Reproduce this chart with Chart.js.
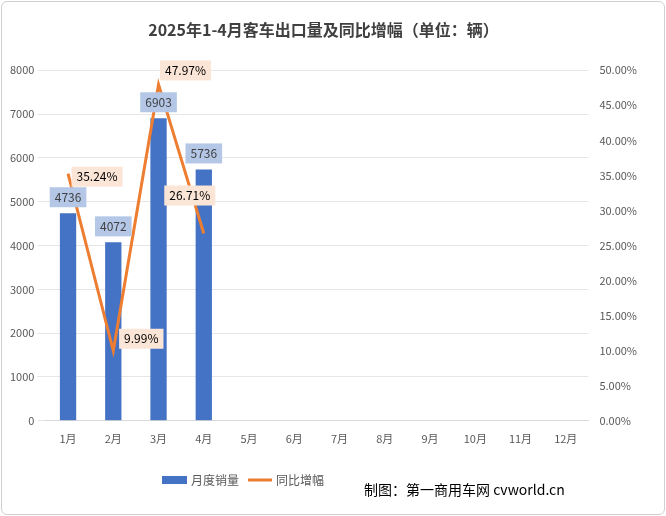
<!DOCTYPE html>
<html><head><meta charset="utf-8">
<script src="https://cdn.jsdelivr.net/npm/chart.js@4"></script>
<style>
body{margin:0;background:#fff}
#wrap{position:absolute;left:1px;top:1px;width:662px;height:512px;border:1px solid #d0d0d0;border-radius:6px;overflow:hidden}
</style></head>
<body><div id="wrap"><canvas id="chart" width="662" height="512"></canvas></div>
<script>
const months = ['1月','2月','3月','4月','5月','6月','7月','8月','9月','10月','11月','12月'];
const sales = [4736, 4072, 6903, 5736, null, null, null, null, null, null, null, null];
const growth = [35.24, 9.99, 47.97, 26.71, null, null, null, null, null, null, null, null];
const font = '"Noto Sans CJK SC", "Noto Sans", sans-serif';

const labelPlugin = {
    id: 'labels',
    afterDatasetsDraw(chart) {
        const ctx = chart.ctx;
        ctx.save();
        ctx.font = '12px ' + font;
        ctx.textAlign = 'center';
        ctx.textBaseline = 'middle';
        chart.getDatasetMeta(0).data.forEach((bar, i) => {
            if (sales[i] == null) return;
            const t = String(sales[i]);
            const w = ctx.measureText(t).width + 10;
            const y = bar.y - 16;
            ctx.fillStyle = '#b4c7e7';
            ctx.fillRect(bar.x - w / 2, y - 10, w, 20);
            ctx.fillStyle = '#404040';
            ctx.fillText(t, bar.x, y);
        });
        const offs = [[29, 3], [28, -12], [27, -14], [-14, -38]];
        chart.getDatasetMeta(1).data.forEach((pt, i) => {
            if (growth[i] == null) return;
            const t = growth[i].toFixed(2) + '%';
            const w = ctx.measureText(t).width + 10;
            const x = pt.x + offs[i][0], y = pt.y + offs[i][1];
            ctx.fillStyle = '#fbe5d6';
            ctx.fillRect(x - w / 2, y - 10, w, 20);
            ctx.fillStyle = '#000';
            ctx.fillText(t, x, y);
        });
        // legend
        ctx.textAlign = 'left';
        ctx.fillStyle = '#4472c4';
        ctx.fillRect(160, 474, 25, 8);
        ctx.fillStyle = '#595959';
        ctx.fillText('月度销量', 189, 478);
        ctx.strokeStyle = '#ed7d31';
        ctx.lineWidth = 3;
        ctx.beginPath(); ctx.moveTo(246, 478); ctx.lineTo(270, 478); ctx.stroke();
        ctx.fillText('同比增幅', 274, 478);
        ctx.font = '14px ' + font;
        ctx.fillStyle = '#000';
        ctx.fillText('制图：第一商用车网 cvworld.cn', 362, 488);
        ctx.restore();
    }
};

new Chart(document.getElementById('chart').getContext('2d'), {
    type: 'bar',
    data: {
        labels: months,
        datasets: [{
            type: 'bar', data: sales, backgroundColor: '#4472c4',
            yAxisID: 'y', barPercentage: 0.36, categoryPercentage: 1, order: 2
        }, {
            type: 'line', data: growth, borderColor: '#ed7d31', borderWidth: 3,
            pointRadius: 0, yAxisID: 'y1', tension: 0, order: 1
        }]
    },
    options: {
        responsive: false, animation: false,
        layout: { padding: { left: 5, right: 24, top: 6, bottom: 66 } },
        plugins: {
            legend: { display: false },
            tooltip: { enabled: false },
            title: {
                display: true, text: '2025年1-4月客车出口量及同比增幅（单位：辆）',
                color: '#404040', font: { family: font, size: 16, weight: 'bold' },
                padding: { top: 12, bottom: 31 }
            }
        },
        scales: {
            x: {
                grid: { display: false }, border: { color: '#d9d9d9' },
                ticks: { color: '#595959', font: { family: font, size: 11 } }
            },
            y: {
                min: 0, max: 8000,
                ticks: { stepSize: 1000, color: '#595959', font: { family: font, size: 11 }, callback: v => String(v) },
                grid: { color: '#e6e6e6' }, border: { display: false }
            },
            y1: {
                position: 'right', min: 0, max: 50,
                ticks: { stepSize: 5, color: '#595959', font: { family: font, size: 11 }, callback: v => v.toFixed(2) + '%' },
                grid: { display: false }, border: { display: false }
            }
        }
    },
    plugins: [labelPlugin]
});
</script></body></html>
